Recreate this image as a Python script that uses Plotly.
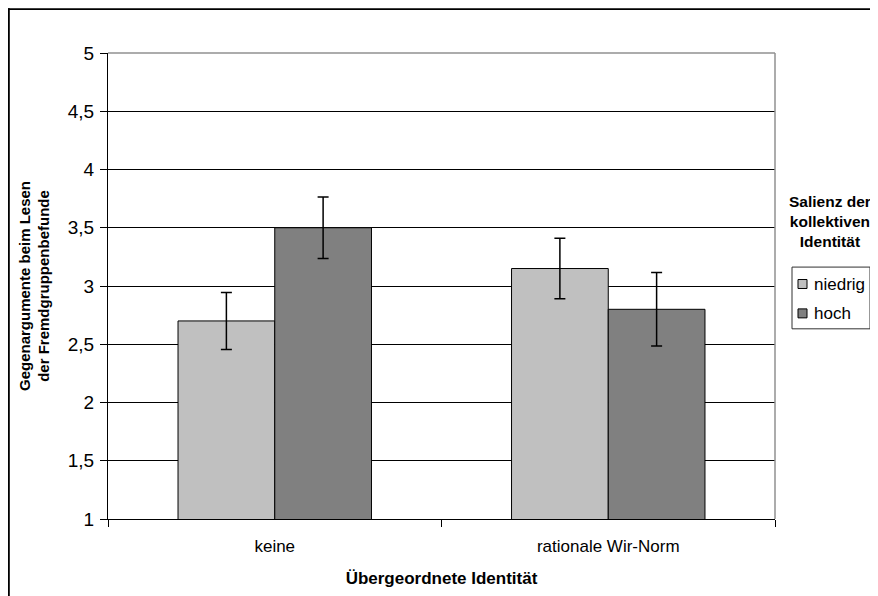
import plotly.graph_objects as go

categories = ["keine", "rationale Wir-Norm"]
series_names = ["niedrig", "hoch"]
niedrig_values = [2.70, 3.15]
hoch_values = [3.50, 2.80]
niedrig_err = [0.245, 0.26]
hoch_err = [0.265, 0.315]
series_colors = ["#C0C0C0", "#808080"]
y_ticks = [1, 1.5, 2, 2.5, 3, 3.5, 4, 4.5, 5]

# page body has an 8px margin, so figure coords = reference coords - 8
W, H = 870, 588
L, R, T, B = 100, 103, 45, 75
PW, PH = W - L - R, H - T - B
FONT = "Liberation Sans, Arial, sans-serif"
OFF = 8


def px(x):  # reference-pixel x -> paper
    return (x - OFF - L) / PW


def py(y):  # reference-pixel y -> paper
    return (H - B - (y - OFF)) / PH


fig = go.Figure()
for name, vals, errs, col in zip(series_names, [niedrig_values, hoch_values],
                                 [niedrig_err, hoch_err], series_colors):
    fig.add_trace(go.Bar(
        x=categories, y=vals, name=name,
        marker=dict(color=col, line=dict(color="black", width=1)),
        error_y=dict(type="data", array=errs, visible=True, color="black",
                     thickness=1.5, width=5.5),
        showlegend=False,
    ))

shapes = [
    # plot-area top/right border (grey)
    dict(type="line", xref="paper", yref="paper", x0=0, x1=1, y0=1, y1=1,
         line=dict(color="#909090", width=1.5)),
    dict(type="line", xref="paper", yref="paper", x0=1, x1=1, y0=0, y1=1,
         line=dict(color="#909090", width=1.5)),
    # outer chart border (top and left edges of the figure)
    dict(type="line", xref="paper", yref="paper", x0=px(8), x1=px(900), y0=py(8.9), y1=py(8.9),
         line=dict(color="black", width=1.8)),
    dict(type="line", xref="paper", yref="paper", x0=px(8.9), x1=px(8.9), y0=py(8), y1=py(620),
         line=dict(color="black", width=1.8)),
    # legend box
    dict(type="rect", xref="paper", yref="paper", x0=px(792), x1=px(870), y0=py(268), y1=py(330),
         line=dict(color="#303030", width=1), fillcolor="white"),
]
annotations = [
    dict(text="<b>Salienz der<br>kollektiven<br>Identität</b>", xref="paper", yref="paper",
         x=px(830), y=py(222), xanchor="center", yanchor="middle", showarrow=False,
         align="center", font=dict(family=FONT, size=15.5, color="black")),
]
for i, (name, col) in enumerate(zip(series_names, series_colors)):
    cy = 285 + i * 29.5
    shapes.append(dict(type="rect", xref="paper", yref="paper",
                       x0=px(798), x1=px(807), y0=py(cy - 4.5), y1=py(cy + 4.5),
                       line=dict(color="black", width=1), fillcolor=col))
    annotations.append(dict(text=name, xref="paper", yref="paper", x=px(812), y=py(cy),
                            xanchor="left", yanchor="middle", showarrow=False,
                            font=dict(family=FONT, size=17, color="black")))

fig.update_layout(
    width=W, height=H,
    margin=dict(l=L, r=R, t=T, b=B, pad=0),
    paper_bgcolor="white", plot_bgcolor="white",
    separators=",.",
    barmode="group", bargap=0.42, bargroupgap=0,
    font=dict(family=FONT, color="black"),
    shapes=shapes, annotations=annotations,
    xaxis=dict(
        showline=True, linecolor="black", linewidth=1,
        ticks="outside", tickson="boundaries", ticklen=7, tickcolor="black",
        tickfont=dict(size=17), ticklabelstandoff=12,
        title=dict(text="<b>Übergeordnete Identität</b>", font=dict(size=17), standoff=16),
        showgrid=False,
    ),
    yaxis=dict(
        range=[1, 5], tickvals=y_ticks,
        showline=True, linecolor="black", linewidth=1,
        ticks="outside", ticklen=7, tickcolor="black",
        tickfont=dict(size=19), ticklabelstandoff=2,
        showgrid=True, gridcolor="black", gridwidth=1,
        zeroline=False,
        title=dict(text="<b>Gegenargumente beim Lesen<br>der Fremdgruppenbefunde</b>",
                   font=dict(size=15), standoff=14),
    ),
)

fig.write_html("out.html")
